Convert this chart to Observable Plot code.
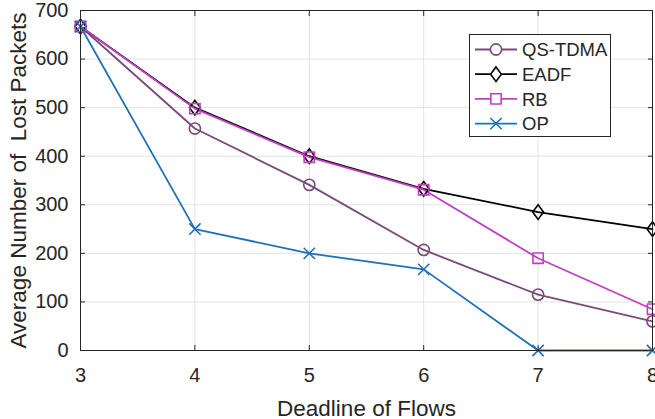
<!DOCTYPE html>
<html>
<head>
<meta charset="utf-8">
<script src="https://cdn.jsdelivr.net/npm/d3@7"></script>
<script src="https://cdn.jsdelivr.net/npm/@observablehq/plot@0.6"></script>
<style>
  html, body { margin: 0; padding: 0; background: #fff; }
  #wrap { position: relative; width: 655px; height: 419px; overflow: hidden; font-family: "Liberation Sans", Arial, sans-serif; }
  #legend { position: absolute; left: 469px; top: 34px; width: 142px; height: 103px; border: 1px solid #262626; background: #fff; box-sizing: border-box; }
</style>
</head>
<body>
<div id="wrap"><div id="chart"></div><div id="legend"></div></div>
<script>
const deadlines = [3, 4, 5, 6, 7, 8];
const qsTdma = [667, 457, 341, 207, 115, 60];
const eadf   = [667, 500, 400, 333, 285, 250];
const rb     = [667, 498, 398, 331, 190, 85];
const op     = [667, 250, 200, 167, 0, 0];
const yTicks = [0, 100, 200, 300, 400, 500, 600, 700];
const seriesNames = ["QS-TDMA", "EADF", "RB", "OP"];
const seriesValues = [qsTdma, eadf, rb, op];
const seriesColors = ["#7b4a7b", "#000000", "#c040c0", "#1f72b8"];

// MATLAB-like diamond (moderately taller than wide)
const matlabDiamond = {
  draw(context, size) {
    const hw = Math.sqrt(size / 2.7);
    const hh = hw * 1.35;
    context.moveTo(0, -hh); context.lineTo(hw, 0); context.lineTo(0, hh); context.lineTo(-hw, 0); context.closePath();
  }
};
const seriesSymbols = [d3.symbolCircle, matlabDiamond, d3.symbolSquare, d3.symbolTimes];
const seriesR = [5.6, 5.0, 5.8, 5.2];

const rows = [];
seriesNames.forEach((name, i) => {
  deadlines.forEach((d, j) => rows.push({ series: name, x: d, y: seriesValues[i][j] }));
});

const marks = [
  Plot.gridX(deadlines, { stroke: "#e3e3e3", strokeOpacity: 1 }),
  Plot.gridY(yTicks, { stroke: "#e3e3e3", strokeOpacity: 1 })
];
seriesNames.forEach((name, i) => {
  const data = rows.filter(r => r.series === name);
  marks.push(Plot.line(data, { x: "x", y: "y", stroke: seriesColors[i], strokeWidth: 1.8 }));
});
seriesNames.forEach((name, i) => {
  const data = rows.filter(r => r.series === name);
  marks.push(Plot.dot(data, { x: "x", y: "y", stroke: seriesColors[i], fill: "none", strokeWidth: 1.6, symbol: seriesSymbols[i], r: seriesR[i] }));
});
marks.push(
  Plot.frame({ stroke: "#262626", strokeWidth: 1 }),
  Plot.axisX({ ticks: deadlines, tickSize: 0, tickPadding: 17, label: null, tickFormat: d => String(d), fontSize: 20 }),
  Plot.axisX({ ticks: deadlines, tickSize: -5, text: null, label: null, stroke: "#262626" }),
  Plot.axisX({ ticks: deadlines, anchor: "top", tickSize: -5, text: null, label: null, stroke: "#262626" }),
  Plot.axisY({ ticks: yTicks, tickSize: 0, tickPadding: 12, label: null, tickFormat: d => String(d), fontSize: 20 }),
  Plot.axisY({ ticks: yTicks, tickSize: -5, text: null, label: null, stroke: "#262626" }),
  Plot.axisY({ ticks: yTicks, anchor: "right", tickSize: -5, text: null, label: null, stroke: "#262626" }),
  Plot.text(["Deadline of Flows"], { frameAnchor: "bottom", dy: 65, fontSize: 22.5, fill: "#262626" }),
  Plot.text(["Average Number of  Lost Packets"], { frameAnchor: "left", textAnchor: "middle", rotate: -90, dx: -62, fontSize: 22.5, fill: "#262626" })
);

const chart = Plot.plot({
  width: 655,
  height: 419,
  marginLeft: 80,
  marginRight: 3,
  marginTop: 10,
  marginBottom: 69,
  style: { fontFamily: "'Liberation Sans', Arial, sans-serif", fontSize: "20px", background: "#fff", color: "#262626", overflow: "visible" },
  x: { domain: [3, 8] },
  y: { domain: [0, 700] },
  marks
});
document.getElementById("chart").appendChild(chart);

// legend
const lg = d3.select("#legend").append("svg").attr("width", 140).attr("height", 101)
  .style("font-family", "'Liberation Sans', Arial, sans-serif");
seriesNames.forEach((name, i) => {
  const cy = 14.5 + i * 24.7;
  const g = lg.append("g").attr("transform", `translate(0,${cy})`);
  g.append("line").attr("x1", 5).attr("x2", 47).attr("y1", 0).attr("y2", 0)
    .attr("stroke", seriesColors[i]).attr("stroke-width", 1.8);
  g.append("path").attr("transform", "translate(26,0)")
    .attr("d", d3.symbol(seriesSymbols[i], Math.PI * seriesR[i] * seriesR[i])())
    .attr("fill", "#fff").attr("stroke", seriesColors[i]).attr("stroke-width", 1.6);
  g.append("text").attr("x", 52).attr("y", 0).attr("dy", "0.36em")
    .attr("font-size", 18.5).attr("fill", "#262626").text(name);
});
</script>
</body>
</html>
